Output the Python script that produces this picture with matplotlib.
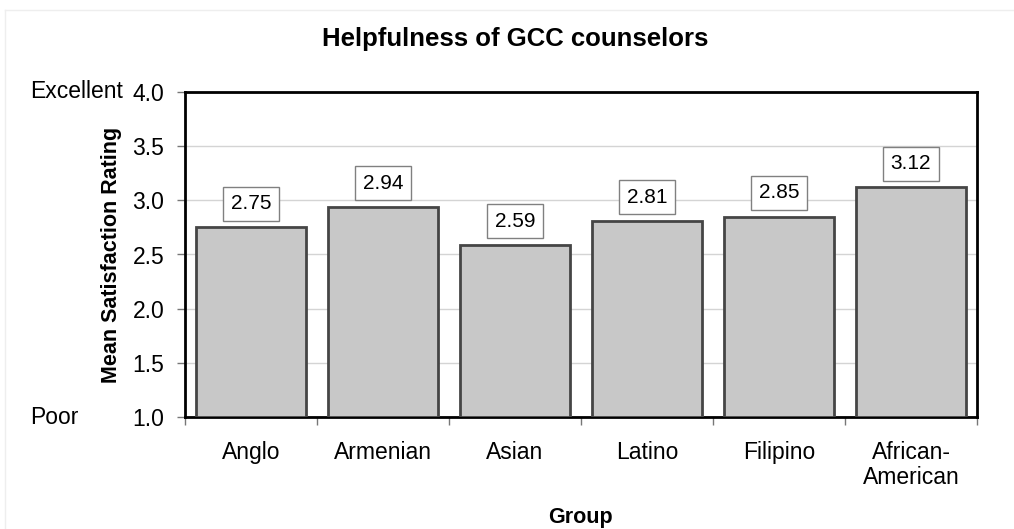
import matplotlib.pyplot as plt
from matplotlib.lines import Line2D

plt.rcParams['font.family'] = ['Liberation Sans', 'DejaVu Sans']

# data
groups = ['Anglo', 'Armenian', 'Asian', 'Latino', 'Filipino', 'African-\nAmerican']
ratings = [2.75, 2.94, 2.59, 2.81, 2.85, 3.12]
yticks = [1.0, 1.5, 2.0, 2.5, 3.0, 3.5, 4.0]

W, H = 1014, 529
fig = plt.figure(figsize=(W / 100, H / 100), dpi=100)

# faint outer frame (left and top edges)
fig.add_artist(Line2D([5 / W, 5 / W], [0, 1 - 10 / H], color='#eeeeee', lw=1))
fig.add_artist(Line2D([5 / W, 1], [1 - 10 / H, 1 - 10 / H], color='#eeeeee', lw=1))

ax = fig.add_axes([185 / W, 1 - 417 / H, 792 / W, 325 / H])

x = list(range(len(groups)))
ax.bar(x, [r - 1.0 for r in ratings], bottom=1.0, width=0.84,
       color='#c8c8c8', edgecolor='#454545', linewidth=2, zorder=3)

for xi, r in zip(x, ratings):
    ax.annotate(f'{r:.2f}', (xi, r), xytext=(0, 17), textcoords='offset points',
                ha='center', va='center', fontsize=15, zorder=4,
                bbox=dict(boxstyle='square,pad=0.36', fc='white', ec='#808080', lw=1))

ax.set_xlim(-0.5, len(groups) - 0.5)
ax.set_ylim(1.0, 4.0)
ax.set_yticks(yticks)
ax.set_yticklabels([f'{t:.1f}' for t in yticks], fontsize=16.5)
ax.yaxis.grid(True, color='#d4d4d4', linewidth=1, zorder=0)
ax.tick_params(axis='y', direction='out', length=6, width=1, color='#777777', pad=9)

# category labels between boundary ticks
ax.set_xticks([i - 0.5 for i in range(len(groups) + 1)])
ax.set_xticklabels([])
ax.set_xticks(x, minor=True)
ax.set_xticklabels(groups, minor=True, fontsize=16.5, linespacing=1.15)
ax.tick_params(axis='x', which='minor', length=0, pad=17)
ax.tick_params(axis='x', which='major', direction='out', length=6, width=1, color='#777777')

for s in ax.spines.values():
    s.set_linewidth(2)
    s.set_color('black')

fig.text(515 / W, 1 - 39 / H, 'Helpfulness of GCC counselors', fontsize=18.5,
         fontweight='bold', ha='center', va='center')
fig.text(580 / W, 1 - 517 / H, 'Group', fontsize=15.5, fontweight='bold',
         ha='center', va='center')
fig.text(112 / W, 1 - 255 / H, 'Mean Satisfaction Rating', fontsize=15.5,
         fontweight='bold', rotation=90, ha='center', va='center')

fig.text(30 / W, 1 - 92 / H, 'Excellent', fontsize=16.5, va='center', ha='left')
fig.text(30 / W, 1 - 417 / H, 'Poor', fontsize=16.5, va='center', ha='left')

fig.savefig('out.png', dpi=100)
